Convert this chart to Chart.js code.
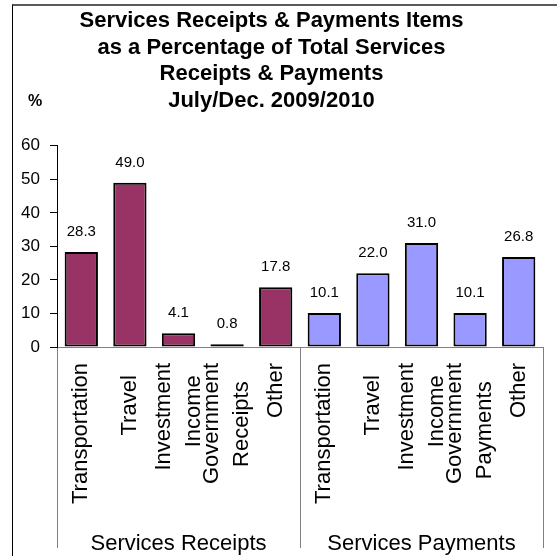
<!DOCTYPE html>
<html>
<head>
<meta charset="utf-8">
<script src="https://cdn.jsdelivr.net/npm/chart.js@4.4.1/dist/chart.umd.min.js"></script>
<style>
  html, body { margin: 0; padding: 0; background: #fff; overflow: hidden; }
  #wrap { position: relative; width: 557px; height: 556px; }
  #frame { position: absolute; left: 12px; top: 4px; width: 600px; height: 600px;
           border-left: 1px solid #000; border-top: 2px solid #5a5a5a; }
  #chart { position: absolute; left: 0; top: 0; }
</style>
</head>
<body>
<div id="wrap">
  <div id="frame"></div>
  <canvas id="chart" width="557" height="556"></canvas>
</div>
<script>
const FONT = '"Liberation Sans", Arial, sans-serif';

const titleLines = [
  'Services Receipts & Payments Items',
  'as a Percentage of Total Services',
  'Receipts & Payments',
  'July/Dec. 2009/2010'
];
const unitLabel = '%';

// item labels as they sit in the sheet (some carry trailing blanks), two-line ones as arrays
const categories = [
  'Transportation', 'Travel  ', ['Investment', 'Income  '], ['Government', 'Receipts   '], 'Other',
  'Transportation', 'Travel  ', ['Investment', 'Income  '], ['Government', 'Payments   '], 'Other'
];
const groups = ['Services Receipts', 'Services Payments'];

const receipts = [28.3, 49.0, 4.1, 0.8, 17.8];
const payments = [10.1, 22.0, 31.0, 10.1, 26.8];

const yMin = 0, yMax = 60, yStep = 10;

const nulls = n => new Array(n).fill(null);

// numbers over each bar
const valueLabels = {
  id: 'valueLabels',
  afterDatasetsDraw(chart) {
    const ctx = chart.ctx;
    ctx.save();
    ctx.font = '15px ' + FONT;
    ctx.fillStyle = '#000';
    ctx.textAlign = 'center';
    ctx.textBaseline = 'middle';
    chart.data.datasets.forEach((ds, i) => {
      chart.getDatasetMeta(i).data.forEach((bar, j) => {
        const v = ds.data[j];
        if (v == null) return;
        ctx.fillText(v.toFixed(1), bar.x, bar.y - 20);
      });
    });
    ctx.restore();
  }
};

// "%" next to the last title line
const unitText = {
  id: 'unitText',
  afterDraw(chart) {
    const ctx = chart.ctx, a = chart.chartArea;
    ctx.save();
    ctx.font = 'bold 16px ' + FONT;
    ctx.fillStyle = '#000';
    ctx.textAlign = 'center';
    ctx.textBaseline = 'middle';
    ctx.fillText(unitLabel, a.left - 22, a.top - 44.5);
    ctx.restore();
  }
};

// chart.js starts multi-line rotated labels at the tick; move them so the block is centred
const centerLines = {
  id: 'centerLines',
  beforeDraw(chart) {
    const sc = chart.scales.x;
    if (!sc.getLabelItems) return;
    const items = sc.getLabelItems();
    if (items._centered) return;
    items.forEach(it => {
      if (Array.isArray(it.label)) {
        it.options.translation[0] -= (it.label.length - 1) * it.font.lineHeight / 2;
      }
    });
    items._centered = true;
  }
};

const X_AXIS_H = 173;   // chart bottom down to the group row
const GROUP_H = 36;

new Chart(document.getElementById('chart'), {
  type: 'bar',
  data: {
    labels: categories,
    datasets: [
      { label: groups[0], data: receipts.concat(nulls(payments.length)),
        backgroundColor: '#993366', borderColor: '#000', borderWidth: 2, borderSkipped: false },
      { label: groups[1], data: nulls(receipts.length).concat(payments),
        backgroundColor: '#9999ff', borderColor: '#000', borderWidth: 2, borderSkipped: false }
    ]
  },
  options: {
    responsive: false,
    animation: false,
    barPercentage: 0.685,
    categoryPercentage: 1,
    layout: { padding: { left: 0, right: 14, top: 0, bottom: 0 } },
    plugins: {
      legend: { display: false },
      tooltip: { enabled: false },
      title: {
        display: true,
        text: titleLines,
        color: '#000',
        font: { family: FONT, size: 22, weight: 'bold', lineHeight: 1.212 },
        padding: { top: 7.6, bottom: 31.5 }
      }
    },
    scales: {
      x: {
        stacked: true,
        offset: true,
        grid: {
          display: true, drawOnChartArea: false, drawTicks: true, offset: true,
          tickLength: X_AXIS_H,
          color: c => (c.index === undefined || c.index % 5 === 0) ? '#808080' : 'rgba(0,0,0,0)'
        },
        border: { display: true, color: '#808080', width: 1 },
        ticks: {
          autoSkip: false, minRotation: 90, maxRotation: 90,
          padding: 16 - X_AXIS_H,
          color: '#000',
          font: { family: FONT, size: 22, lineHeight: 1.36 }
        },
        afterFit: s => { s.height = X_AXIS_H; }
      },
      xg: {
        type: 'category',
        position: 'bottom',
        weight: 1,
        labels: groups,
        offset: true,
        grid: {
          display: true, drawOnChartArea: false, drawTicks: true, offset: true,
          tickLength: 28, color: '#808080'
        },
        border: { display: false },
        ticks: {
          padding: -17.2,
          color: '#000',
          font: { family: FONT, size: 22, lineHeight: 1.2 }
        },
        afterFit: s => { s.height = GROUP_H; }
      },
      y: {
        stacked: true,
        min: yMin, max: yMax,
        ticks: { stepSize: yStep, padding: 10, color: '#000', font: { family: FONT, size: 17 } },
        grid: { drawOnChartArea: false, drawTicks: true, tickLength: 7, color: '#000' },
        border: { display: true, color: '#000', width: 1 },
        afterFit: s => { s.width = 57; }
      }
    }
  },
  plugins: [centerLines, valueLabels, unitText]
});
</script>
</body>
</html>
